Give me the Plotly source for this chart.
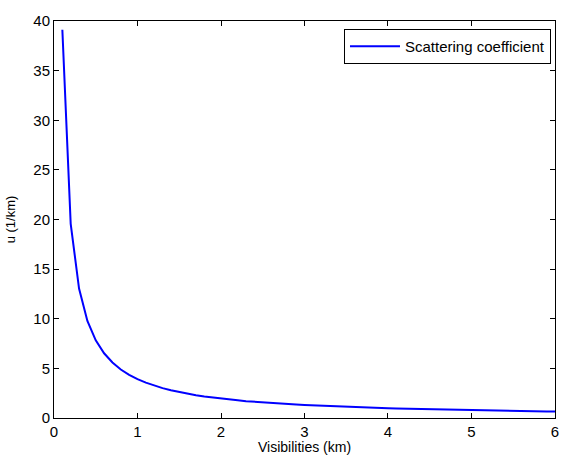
import plotly.graph_objects as go

visibility_km = [round(0.1 * i, 1) for i in range(1, 61)]
scattering = [39.12, 19.56, 13.04, 9.78, 7.82, 6.52, 5.59, 4.89, 4.35, 3.91,
              3.56, 3.26, 3.01, 2.79, 2.61, 2.45, 2.30, 2.17, 2.06, 1.96,
              1.86, 1.78, 1.70, 1.63, 1.56, 1.50, 1.45, 1.40, 1.35, 1.30,
              1.26, 1.22, 1.19, 1.15, 1.12, 1.09, 1.06, 1.03, 1.00, 0.98,
              0.95, 0.93, 0.91, 0.89, 0.87, 0.85, 0.83, 0.82, 0.80, 0.78,
              0.77, 0.75, 0.74, 0.72, 0.71, 0.70, 0.69, 0.67, 0.66, 0.65]
x_ticks = [0, 1, 2, 3, 4, 5, 6]
y_ticks = [0, 5, 10, 15, 20, 25, 30, 35, 40]

fig = go.Figure()
fig.add_trace(go.Scatter(x=visibility_km, y=scattering, mode="lines",
                         name="Scattering coefficient",
                         line=dict(color="#0000FF", width=2)))

fam = "Liberation Sans, Arial, sans-serif"
tickfont = dict(family=fam, size=15, color="black")
axis_common = dict(showgrid=False, zeroline=False, showline=True, linecolor="black",
                   linewidth=1, mirror="ticks", ticks="inside", ticklen=5,
                   tickcolor="black", tickfont=tickfont, automargin=False)
fig.update_layout(
    width=561, height=455,
    margin=dict(l=54, r=6, t=21, b=37),
    paper_bgcolor="white", plot_bgcolor="white",
    font=dict(family=fam, size=14, color="black"),
    showlegend=True,
    legend=dict(x=0.992, y=0.98, xanchor="right", yanchor="top",
                bordercolor="black", borderwidth=1, bgcolor="white",
                itemwidth=50, tracegroupgap=0,
                font=dict(family=fam, size=15, color="black")),
    xaxis=dict(range=[0, 6.0001], tickvals=x_ticks,
               title=dict(text="Visibilities (km)", standoff=7,
                          font=dict(family=fam, size=14, color="black")),
               **axis_common),
    yaxis=dict(range=[0, 40.0001], tickvals=y_ticks,
               title=dict(text="u (1/km)", standoff=14,
                          font=dict(family=fam, size=13, color="black")),
               **axis_common),
)
fig.write_html("out.html", config={"displayModeBar": False},
               post_script="document.body.style.margin='0';document.body.style.overflow='hidden';")
